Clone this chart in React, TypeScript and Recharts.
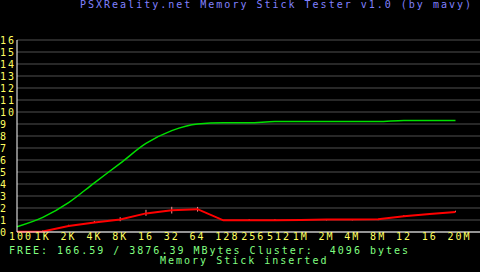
import React from "react";
import { LineChart, Line, XAxis, YAxis, CartesianGrid, ErrorBar } from "recharts";

// block sizes tested, one per column
const sizeLabels = ["100", "1K", "2K", "4K", "8K", "16", "32", "64", "128", "256", "512", "1M", "2M", "4M", "8M", "12", "16", "20M"];
// green: read speed, red: write speed (MB/s)
const readSpeed = [0.44, 1.22, 2.45, 4.1, 5.72, 7.38, 8.45, 9.0, 9.1, 9.1, 9.2, 9.2, 9.2, 9.2, 9.2, 9.3, 9.3, 9.3];
const writeSpeed = [0.03, 0.05, 0.5, 0.8, 1.05, 1.55, 1.82, 1.9, 0.97, 0.97, 0.98, 1.0, 1.05, 1.05, 1.07, 1.32, 1.5, 1.67];
// write spread below / above the mean
const writeLow = [0, 0, 0, 0, 0.15, 0.2, 0.28, 0.2, 0.05, 0, 0, 0, 0.08, 0.08, 0.08, 0, 0, 0];
const writeHigh = [0, 0.08, 0.1, 0.12, 0.18, 0.3, 0.28, 0.19, 0, 0.1, 0.08, 0.08, 0, 0, 0, 0.08, 0.08, 0.1];
const speedTicks = [0, 1, 2, 3, 4, 5, 6, 7, 8, 9, 10, 11, 12, 13, 14, 15, 16];

const data = sizeLabels.map((label, i) => ({
  pos: i,
  label,
  read: readSpeed[i],
  write: writeSpeed[i],
  spread: [writeLow[i], writeHigh[i]],
}));

const FONT = "'DejaVu Sans Mono', monospace";
const txt = { fontFamily: FONT, fontSize: 10, letterSpacing: 2 };

const XTick = (props: any) => {
  const { x, payload } = props;
  return (
    <text x={x - 8} y={239.5} fill="#ffff60" textAnchor="start" style={txt}>
      {sizeLabels[payload.value]}
    </text>
  );
};

const YTick = (props: any) => {
  const { y, payload } = props;
  return (
    <text x={0} y={y + 3.5} fill="#ffff60" textAnchor="start" style={txt}>
      {payload.value}
    </text>
  );
};

export default function App() {
  return (
    <div style={{ position: "fixed", left: 0, top: 0, width: 480, height: 272, background: "#000" }}>
      <LineChart width={480} height={272} data={data} margin={{ top: 40, right: 0, bottom: 0, left: 0 }}>
        <CartesianGrid vertical={false} stroke="#505050" strokeWidth={1} />
        <XAxis
          dataKey="pos"
          type="number"
          domain={[0, 17.95]}
          ticks={data.map((d) => d.pos)}
          interval={0}
          height={40}
          axisLine={{ stroke: "#ffffff", strokeWidth: 1 }}
          tickLine={false}
          tick={<XTick />}
        />
        <YAxis
          type="number"
          domain={[0, 16]}
          ticks={speedTicks}
          interval={0}
          width={17}
          axisLine={{ stroke: "#ffffff", strokeWidth: 1 }}
          tickLine={false}
          tick={<YTick />}
        />
        <Line
          dataKey="read"
          type="monotone"
          stroke="#00e000"
          strokeWidth={1.5}
          dot={false}
          isAnimationActive={false}
        />
        <Line
          dataKey="write"
          type="linear"
          stroke="#ff0000"
          strokeWidth={2}
          dot={false}
          isAnimationActive={false}
        >
          <ErrorBar dataKey="spread" direction="y" width={0} stroke="#ff9090" strokeWidth={1} />
        </Line>
      </LineChart>
      <svg width={480} height={272} style={{ position: "absolute", left: 0, top: 0, pointerEvents: "none" }}>
        <text x={80} y={7.5} fill="#8080ff" style={txt}>
          PSXReality.net Memory Stick Tester v1.0 (by mavy)
        </text>
        <text x={9} y={253.5} fill="#80ff80" style={{ ...txt, whiteSpace: "pre" }}>
          {"FREE: 166.59 / 3876.39 MBytes Cluster:  4096 bytes"}
        </text>
        <text x={160} y={263.5} fill="#80ff80" style={txt}>
          Memory Stick inserted
        </text>
      </svg>
    </div>
  );
}
